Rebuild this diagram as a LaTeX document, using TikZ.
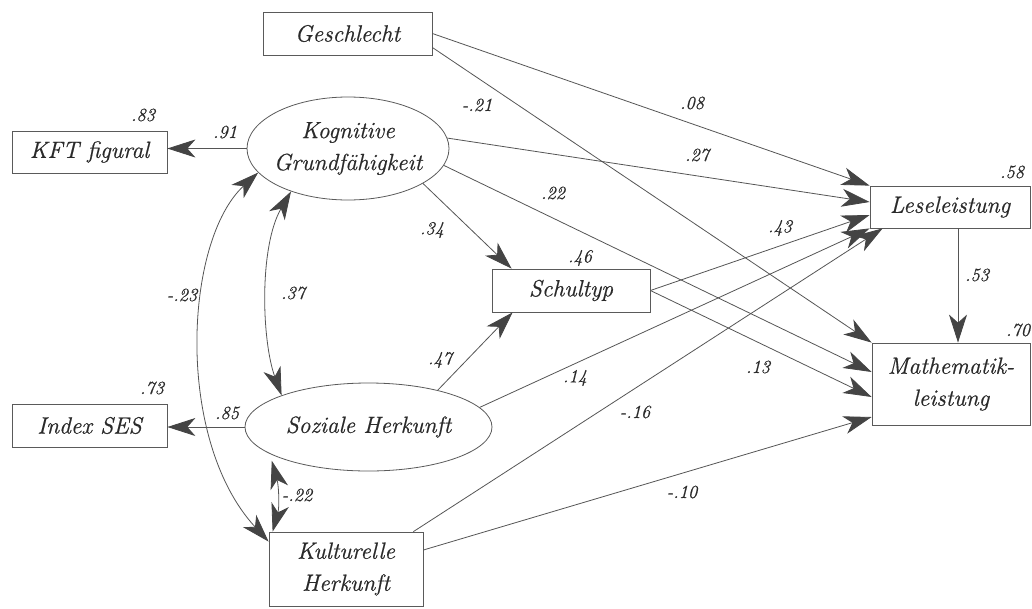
\documentclass[tikz,border=0pt]{standalone}
\usepackage{fontspec}
\setmainfont{Latin Modern Roman}[ItalicFeatures={FakeBold=0.6}]
\usetikzlibrary{arrows.meta,shapes.geometric,calc}
\definecolor{txt}{HTML}{2A2A2A}
\definecolor{bd}{HTML}{5A5A5A}
\definecolor{ln}{HTML}{555555}
\definecolor{hd}{HTML}{444444}
\begin{document}
\begin{tikzpicture}[x=1pt,y=-1pt,
  >={Stealth[length=28pt,width=18pt,inset=8pt,fill=hd,color=hd]},
  mainfont/.style={font=\fontsize{23.5}{32}\selectfont\itshape, text=txt},
  lbl/.style={font=\fontsize{18.5}{20}\selectfont\itshape, text=txt, inner sep=0},
  box/.style={draw=bd, line width=0.8pt, rectangle, inner sep=0, align=center, mainfont},
  ell/.style={draw=bd, line width=0.8pt, ellipse, inner sep=0},
  etext/.style={inner sep=0, align=center, mainfont},
  arr/.style={draw=ln, line width=0.8pt, ->},
  darr/.style={draw=ln, line width=0.8pt, <->}
]
\fill[white] (0,0) rectangle (1032,608);
\useasboundingbox (0,0) rectangle (1032,608);

% nodes
\node[box, minimum width=169pt, minimum height=43pt] (gesch) at (347.5,33.5) {Geschlecht};
\node[box, minimum width=155pt, minimum height=42pt] (kft) at (89.5,152) {KFT figural};
\node[ell, minimum width=202pt, minimum height=103pt] (kog) at (348,148.5) {};
\node[etext] (kogt) at (kog.center) {Kognitive\\Grundfähigkeit};
\node[box, minimum width=155pt, minimum height=43pt] (index) at (89.5,425.5) {Index SES};
\node[ell, minimum width=247pt, minimum height=88pt] (soz) at (368.5,427) {};
\node[etext] (sozt) at (soz.center) {Soziale Herkunft};
\node[box, minimum width=154pt, minimum height=74pt] (kult) at (346,569) {Kulturelle\\Herkunft};
\node[box, minimum width=158pt, minimum height=43pt] (schul) at (571,290.5) {Schultyp};
\node[box, minimum width=160pt, minimum height=42pt] (lese) at (950,207) {Leseleistung};
\node[box, minimum width=158pt, minimum height=82pt] (math) at (951,384) {Mathematik-\\leistung};

\coordinate (lm) at ($(lese.south)+(8,0)$);
\coordinate (mt) at (lm |- math.north);

% measurement paths
\draw[arr] (kog.west) -- (kog.west -| kft.east);
\draw[arr] (soz.west) -- (soz.west -| index.east);

% structural paths
\draw[arr] (gesch.east) -- (lese.north west);
\draw[arr] ($(gesch.east)+(0,14)$) -- (math.north west);
\draw[arr] (kog.6) -- ($(lese.west)+(0,-5)$);
\draw[arr] (kog.-10) -- ($(math.west)+(0,-12)$);
\draw[arr] (kog.-25) -- ($(schul.north west)+(20,0)$);
\draw[arr] (soz.28) -- ($(schul.south west)+(21,0)$);
\draw[arr] (soz.10) -- (lese.south west);
\draw[arr] ($(kult.north east)+(-10,0)$) -- ($(lese.south west)+(13,0)$);
\draw[arr] ($(kult.east)+(0,-19)$) -- ($(math.west)+(0,33)$);
\draw[arr] (schul.east) -- ($(lese.west)+(0,8)$);
\draw[arr] (schul.east) -- ($(math.west)+(0,13)$);
\draw[arr] (lm) -- (mt);

% correlations
\draw[darr] (kog.217) .. controls +(-32,55) and +(-20,-55) .. (soz.160);
\draw[darr] (kog.195) .. controls +(-74,68) and +(-94,-102) .. ($(kult.north west)+(0,10)$);
\draw[darr] ($(kult.north west)+(4,0)$) .. controls +(7,-25) and +(7,25) .. ($(soz.196)+(0,6)$);

% labels
\node[lbl] (l83) at (143,115) {.83};
\node[lbl] (l91) at (225,132) {.91};
\node[lbl] (l73) at (152,388) {.73};
\node[lbl] (l85) at (227,413) {.85};
\node[lbl] (l37) at (293,293) {.37};
\node[lbl] (l23) at (182,295) {-.23};
\node[lbl] (l22b) at (297,495) {-.22};
\node[lbl] (l08) at (692,103) {.08};
\node[lbl] (l21) at (477,105) {-.21};
\node[lbl] (l27) at (697,155) {.27};
\node[lbl] (l22) at (553,193) {.22};
\node[lbl] (l34) at (432,230) {.34};
\node[lbl] (l46) at (580,258) {.46};
\node[lbl] (l43) at (780,228) {.43};
\node[lbl] (l53) at (977,275) {.53};
\node[lbl] (l58) at (1012,172) {.58};
\node[lbl] (l70) at (1018,330) {.70};
\node[lbl] (l47) at (440,360) {.47};
\node[lbl] (l14) at (575,378) {.14};
\node[lbl] (l13) at (758,367) {.13};
\node[lbl] (l16) at (635,412) {-.16};
\node[lbl] (l10) at (682,492) {-.10};
\end{tikzpicture}
\end{document}
